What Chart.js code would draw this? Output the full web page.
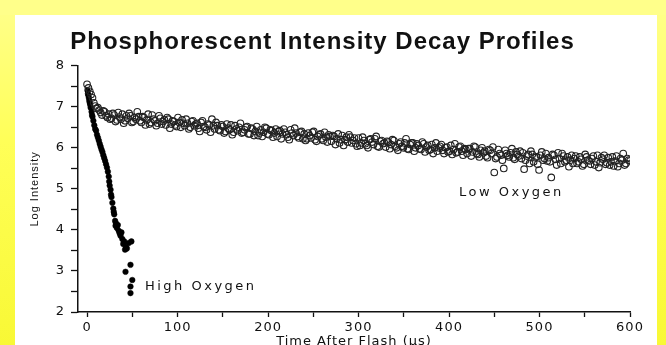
<!DOCTYPE html>
<html>
<head>
<meta charset="utf-8">
<script src="https://cdn.jsdelivr.net/npm/chart.js@4.4.1/dist/chart.umd.min.js"></script>
<style>
  html, body { margin: 0; padding: 0; background: #fff; overflow: hidden; }
  canvas { display: block; }
</style>
</head>
<body>
<canvas id="chart" width="666" height="352"></canvas>
<script>
// Low oxygen: open circles (two interleaved passes)
const lowX = [
    0, 3, 6, 9, 12, 15, 18, 21, 24, 27,
    30, 33, 36, 39, 42, 45, 48, 51, 54, 57,
    60, 63, 66, 69, 72, 75, 78, 81, 84, 87,
    90, 93, 96, 99, 102, 105, 108, 111, 114, 117,
    120, 123, 126, 129, 132, 135, 138, 141, 144, 147,
    150, 153, 156, 159, 162, 165, 168, 171, 174, 177,
    180, 183, 186, 189, 192, 195, 198, 201, 204, 207,
    210, 213, 216, 219, 222, 225, 228, 231, 234, 237,
    240, 243, 246, 249, 252, 255, 258, 261, 264, 267,
    270, 273, 276, 279, 282, 285, 288, 291, 294, 297,
    300, 303, 306, 309, 312, 315, 318, 321, 324, 327,
    330, 333, 336, 339, 342, 345, 348, 351, 354, 357,
    360, 363, 366, 369, 372, 375, 378, 381, 384, 387,
    390, 393, 396, 399, 402, 405, 408, 411, 414, 417,
    420, 423, 426, 429, 432, 435, 438, 441, 444, 447,
    450, 453, 456, 459, 462, 465, 468, 471, 474, 477,
    480, 483, 486, 489, 492, 495, 498, 501, 504, 507,
    510, 513, 516, 519, 522, 525, 528, 531, 534, 537,
    540, 543, 546, 549, 552, 555, 558, 561, 564, 567,
    570, 573, 576, 579, 582, 585, 588, 591, 594, 597,
    600
];
const lowY = [
    7.55, 7.38, 7.22, 7.02, 6.98, 6.86, 6.90, 6.78, 6.82, 6.72,
    6.80, 6.68, 6.75, 6.82, 6.66, 6.72, 6.78, 6.64, 6.70, 6.76,
    6.62, 6.74, 6.68, 6.58, 6.80, 6.66, 6.60, 6.72, 6.64, 6.56,
    6.70, 6.58, 6.64, 6.52, 6.62, 6.68, 6.54, 6.60, 6.50, 6.66,
    6.58, 6.48, 6.62, 6.52, 6.44, 6.56, 6.70, 6.46, 6.54, 6.42,
    6.52, 6.40, 6.48, 6.56, 6.38, 6.46, 6.50, 6.36, 6.44, 6.52,
    6.34, 6.46, 6.40, 6.30, 6.44, 6.38, 6.48, 6.32, 6.42, 6.36,
    6.28, 6.42, 6.34, 6.38, 6.26, 6.44, 6.30, 6.36, 6.24, 6.40,
    6.34, 6.22, 6.30, 6.38, 6.20, 6.28, 6.34, 6.18, 6.26, 6.32,
    6.16, 6.28, 6.22, 6.12, 6.30, 6.20, 6.14, 6.26, 6.18, 6.10,
    6.24, 6.12, 6.18, 6.06, 6.20, 6.14, 6.22, 6.04, 6.16, 6.10,
    6.02, 6.14, 6.08, 6.18, 6.00, 6.10, 6.04, 6.12, 5.98, 6.08,
    6.12, 6.00, 6.06, 5.96, 6.10, 6.02, 5.94, 6.08, 6.00, 5.92,
    6.04, 5.94, 6.00, 5.90, 6.06, 5.96, 5.88, 6.02, 5.92, 5.98,
    5.86, 5.98, 5.90, 6.02, 5.84, 5.94, 5.88, 5.80, 5.96, 5.86,
    5.40, 5.78, 5.86, 5.70, 5.94, 5.82, 5.88, 5.76, 5.90, 5.80,
    5.74, 5.48, 5.80, 5.62, 5.84, 5.76, 5.60, 5.82, 5.70, 5.86,
    5.76, 5.28, 5.82, 5.58, 5.74, 5.86, 5.66, 5.78, 5.70, 5.62,
    5.80, 5.66, 5.72, 5.60, 5.78, 5.68, 5.74, 5.58, 5.82, 5.64,
    5.72, 5.60, 5.76, 5.66, 5.56, 5.80, 5.62, 5.70, 5.58, 5.74,
    5.68
];
const lowX2 = [
    1.5, 4.5, 7.5, 10.5, 13.5, 16.5, 19.5, 22.5, 25.5, 28.5,
    31.5, 34.5, 37.5, 40.5, 43.5, 46.5, 49.5, 52.5, 55.5, 58.5,
    61.5, 64.5, 67.5, 70.5, 73.5, 76.5, 79.5, 82.5, 85.5, 88.5,
    91.5, 94.5, 97.5, 100.5, 103.5, 106.5, 109.5, 112.5, 115.5, 118.5,
    121.5, 124.5, 127.5, 130.5, 133.5, 136.5, 139.5, 142.5, 145.5, 148.5,
    151.5, 154.5, 157.5, 160.5, 163.5, 166.5, 169.5, 172.5, 175.5, 178.5,
    181.5, 184.5, 187.5, 190.5, 193.5, 196.5, 199.5, 202.5, 205.5, 208.5,
    211.5, 214.5, 217.5, 220.5, 223.5, 226.5, 229.5, 232.5, 235.5, 238.5,
    241.5, 244.5, 247.5, 250.5, 253.5, 256.5, 259.5, 262.5, 265.5, 268.5,
    271.5, 274.5, 277.5, 280.5, 283.5, 286.5, 289.5, 292.5, 295.5, 298.5,
    301.5, 304.5, 307.5, 310.5, 313.5, 316.5, 319.5, 322.5, 325.5, 328.5,
    331.5, 334.5, 337.5, 340.5, 343.5, 346.5, 349.5, 352.5, 355.5, 358.5,
    361.5, 364.5, 367.5, 370.5, 373.5, 376.5, 379.5, 382.5, 385.5, 388.5,
    391.5, 394.5, 397.5, 400.5, 403.5, 406.5, 409.5, 412.5, 415.5, 418.5,
    421.5, 424.5, 427.5, 430.5, 433.5, 436.5, 439.5, 442.5, 445.5, 448.5,
    451.5, 454.5, 457.5, 460.5, 463.5, 466.5, 469.5, 472.5, 475.5, 478.5,
    481.5, 484.5, 487.5, 490.5, 493.5, 496.5, 499.5, 502.5, 505.5, 508.5,
    511.5, 514.5, 517.5, 520.5, 523.5, 526.5, 529.5, 532.5, 535.5, 538.5,
    541.5, 544.5, 547.5, 550.5, 553.5, 556.5, 559.5, 562.5, 565.5, 568.5,
    571.5, 574.5, 577.5, 580.5, 583.5, 586.5, 589.5, 592.5, 595.5, 598.5
];
const lowY2 = [
    7.46, 7.30, 7.10, 6.96, 6.92, 6.80, 6.88, 6.74, 6.70, 6.84,
    6.64, 6.86, 6.70, 6.60, 6.78, 6.84, 6.62, 6.74, 6.88, 6.66,
    6.76, 6.56, 6.82, 6.62, 6.70, 6.54, 6.78, 6.58, 6.68, 6.74,
    6.48, 6.66, 6.56, 6.74, 6.50, 6.60, 6.70, 6.46, 6.64, 6.54,
    6.60, 6.40, 6.66, 6.50, 6.58, 6.38, 6.54, 6.62, 6.44, 6.56,
    6.36, 6.58, 6.44, 6.32, 6.54, 6.42, 6.60, 6.38, 6.50, 6.34,
    6.48, 6.30, 6.52, 6.36, 6.28, 6.50, 6.34, 6.44, 6.26, 6.46,
    6.40, 6.22, 6.46, 6.32, 6.20, 6.36, 6.48, 6.28, 6.38, 6.22,
    6.18, 6.36, 6.24, 6.40, 6.16, 6.32, 6.22, 6.38, 6.14, 6.28,
    6.30, 6.08, 6.34, 6.20, 6.06, 6.26, 6.32, 6.12, 6.24, 6.04,
    6.06, 6.26, 6.10, 6.00, 6.22, 6.08, 6.28, 6.02, 6.18, 6.12,
    6.16, 5.98, 6.20, 6.04, 5.94, 6.14, 6.00, 6.22, 5.96, 6.12,
    5.92, 6.10, 5.98, 6.14, 5.90, 6.06, 5.96, 5.86, 6.12, 6.00,
    6.08, 5.86, 6.02, 5.92, 5.84, 6.10, 5.90, 6.04, 5.82, 5.96,
    5.98, 5.80, 6.04, 5.86, 5.78, 6.00, 5.92, 5.76, 5.94, 6.02,
    5.74, 5.96, 5.82, 5.50, 5.86, 5.78, 5.98, 5.72, 5.84, 5.92,
    5.88, 5.70, 5.84, 5.92, 5.66, 5.78, 5.46, 5.90, 5.74, 5.68,
    5.66, 5.84, 5.72, 5.88, 5.62, 5.80, 5.70, 5.54, 5.82, 5.74,
    5.62, 5.78, 5.56, 5.84, 5.70, 5.60, 5.80, 5.66, 5.52, 5.76,
    5.82, 5.64, 5.58, 5.78, 5.68, 5.54, 5.74, 5.86, 5.62, 5.70
];

// High oxygen: filled dots, fast decay over the first 50 us
const highX = [
    0.5, 1, 1.5, 2, 2.5, 3, 3.5, 4, 5, 5.5,
    6, 7, 8, 9, 10, 11, 12, 13, 14, 15,
    16, 17, 18, 19, 20, 21, 22, 23, 24, 24.5,
    25, 26, 26.5, 27, 28, 29, 29.5, 30, 31, 31.5,
    32, 33, 34, 35, 36, 37, 38, 39, 40, 41,
    42, 43, 44, 46, 49, 42.5, 48, 50, 48, 48
];
const highY = [
    7.40, 7.32, 7.28, 7.22, 7.15, 7.10, 7.05, 6.98, 6.88, 6.80,
    6.76, 6.66, 6.55, 6.46, 6.42, 6.32, 6.25, 6.18, 6.10, 6.03,
    5.96, 5.90, 5.82, 5.75, 5.68, 5.60, 5.52, 5.42, 5.30, 5.18,
    5.08, 4.98, 4.86, 4.80, 4.66, 4.52, 4.44, 4.38, 4.22, 4.10,
    4.16, 4.05, 4.12, 3.98, 3.92, 3.86, 3.94, 3.78, 3.66, 3.72,
    3.52, 3.58, 3.55, 3.68, 3.72, 2.98, 3.15, 2.78, 2.62, 2.46
];

const xTickLabels = [0, 100, 200, 300, 400, 500, 600];
const yTickLabels = [2, 3, 4, 5, 6, 7, 8];

// text placed next to each curve (data units)
const curveNotes = [
    { text: 'Low Oxygen', x: 411, y: 4.9 },
    { text: 'High Oxygen', x: 64, y: 2.63 }
];

const toPoints = (xs, ys) => xs.map((x, i) => ({ x: x, y: ys[i] }));

const INK = '#111';

// yellow frame around the white plot card
const framePlugin = {
    id: 'frame',
    beforeDraw(chart) {
        const { ctx, width, height } = chart;
        ctx.save();
        const g = ctx.createLinearGradient(0, 0, 0, height);
        g.addColorStop(0, '#ffff8c');
        g.addColorStop(0.4, '#ffff58');
        g.addColorStop(1, '#f8f834');
        ctx.fillStyle = g;
        ctx.fillRect(0, 0, width, height);
        ctx.fillStyle = '#ffff8a';
        ctx.fillRect(0, 0, width, 15);
        ctx.fillStyle = '#fff';
        ctx.fillRect(15, 15, 642, height - 15);
        ctx.restore();
        ctx.letterSpacing = '1px';
    }
};

const notesPlugin = {
    id: 'notes',
    afterDatasetsDraw(chart) {
        const { ctx, scales } = chart;
        ctx.save();
        ctx.font = '13px "DejaVu Sans"';
        ctx.letterSpacing = '2.5px';
        ctx.fillStyle = INK;
        ctx.textAlign = 'left';
        ctx.textBaseline = 'middle';
        curveNotes.forEach(n => {
            ctx.fillText(n.text, scales.x.getPixelForValue(n.x), scales.y.getPixelForValue(n.y));
        });
        ctx.restore();
    }
};

new Chart(document.getElementById('chart'), {
    type: 'scatter',
    data: {
        datasets: [
            {
                label: 'Low Oxygen',
                data: toPoints(lowX, lowY).concat(toPoints(lowX2, lowY2)),
                pointStyle: 'circle',
                pointRadius: 3.3,
                borderWidth: 1.1,
                borderColor: '#222',
                backgroundColor: 'rgba(0,0,0,0)'
            },
            {
                label: 'High Oxygen',
                data: toPoints(highX, highY),
                pointStyle: 'circle',
                pointRadius: 2.8,
                borderWidth: 0.5,
                borderColor: '#000',
                backgroundColor: '#000'
            }
        ]
    },
    options: {
        responsive: false,
        animation: false,
        layout: { padding: { left: 15, right: 36, top: 15, bottom: 0 } },
        plugins: {
            legend: { display: false },
            tooltip: { enabled: false },
            title: {
                display: true,
                text: 'Phosphorescent Intensity Decay Profiles',
                color: INK,
                font: { family: 'Liberation Sans', size: 24, weight: 'bold' },
                padding: { top: 13, bottom: 9 }
            }
        },
        scales: {
            x: {
                type: 'linear',
                min: -10,
                max: 600,
                afterFit: s => { s.height = 40; },
                border: { display: true, color: INK, width: 1.5 },
                grid: { drawOnChartArea: false, tickLength: 5, tickColor: INK, tickWidth: 1.3 },
                ticks: {
                    stepSize: 50,
                    includeBounds: false,
                    autoSkip: false,
                    maxRotation: 0,
                    padding: 3,
                    color: INK,
                    font: { family: 'DejaVu Sans', size: 13 },
                    callback: v => xTickLabels.includes(v) ? String(v) : ''
                },
                title: {
                    display: true,
                    text: 'Time After Flash (µs)',
                    color: INK,
                    font: { family: 'DejaVu Sans', size: 13 },
                    padding: { top: 0, bottom: 3 }
                }
            },
            y: {
                min: 2,
                max: 8,
                afterFit: s => { s.width = 63; },
                border: { display: true, color: INK, width: 1.5 },
                grid: { drawOnChartArea: false, tickLength: 7, tickColor: INK, tickWidth: 1.3 },
                ticks: {
                    stepSize: 0.5,
                    autoSkip: false,
                    padding: 6,
                    color: INK,
                    font: { family: 'DejaVu Sans', size: 13 },
                    callback: v => yTickLabels.includes(v) ? String(v) : ''
                },
                title: {
                    display: true,
                    text: 'Log Intensity',
                    color: INK,
                    font: { family: 'Liberation Sans', size: 11 },
                    padding: { top: 13, bottom: 0 }
                }
            }
        }
    },
    plugins: [framePlugin, notesPlugin]
});
</script>
</body>
</html>
